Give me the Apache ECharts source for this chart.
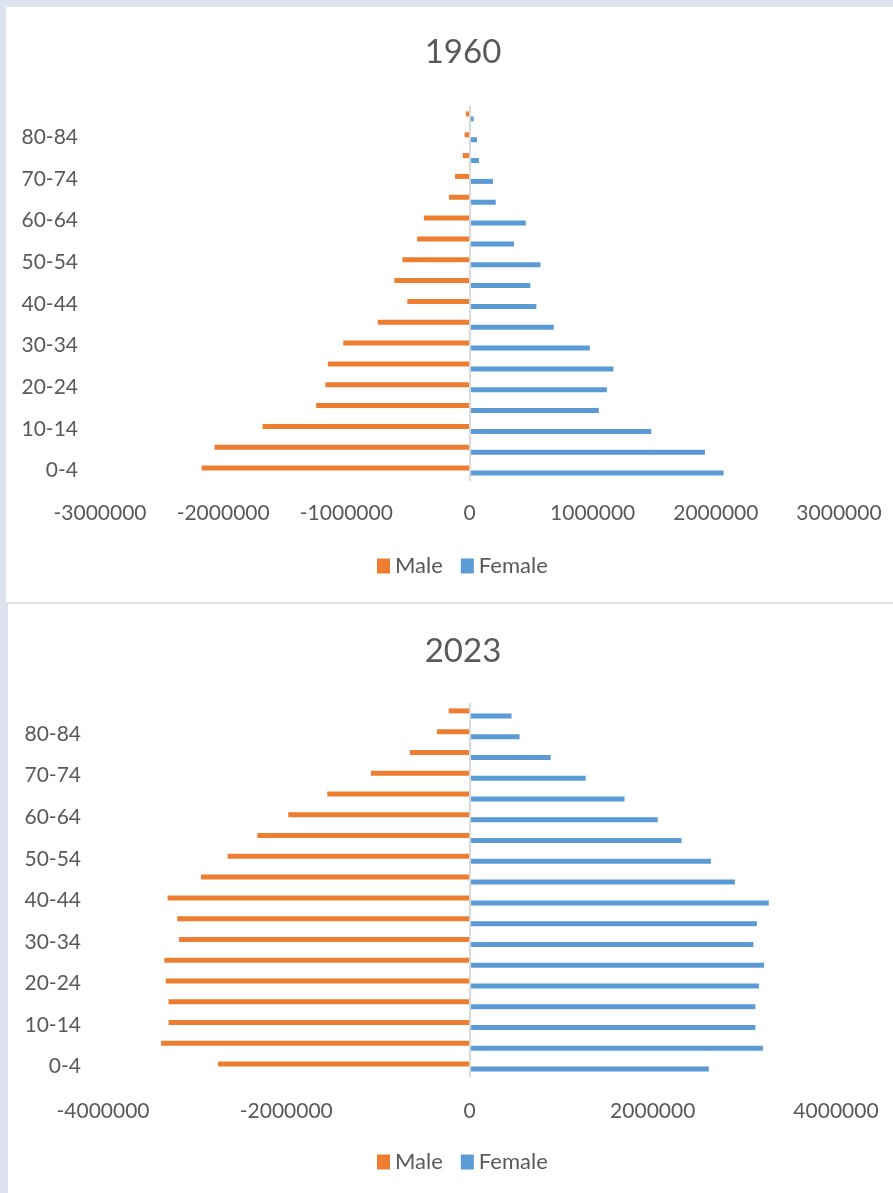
<!DOCTYPE html>
<html>
<head>
<meta charset="utf-8">
<script src="https://cdn.jsdelivr.net/npm/echarts@6/dist/echarts.min.js"></script>
<style>
  html, body { margin: 0; padding: 0; background: #dde2ef; width: 893px; height: 1193px; overflow: hidden; }
  .panel { position: absolute; background: #ffffff; }
  #p1 { left: 6px; top: 7px; width: 887px; height: 595px; }
  #p2 { left: 8px; top: 604px; width: 885px; height: 589px; }
  .chart { width: 100%; height: 100%; }
</style>
</head>
<body>
<div class="panel" id="p1"><div class="chart" id="c1"></div></div>
<div class="panel" id="p2"><div class="chart" id="c2"></div></div>
<script>
// Five-year age groups, youngest first (bottom of the pyramid)
const ageGroups = ['0-4','5-9','10-14','15-19','20-24','25-29','30-34','35-39','40-44',
                   '45-49','50-54','55-59','60-64','65-69','70-74','75-79','80-84','85+'];

// 1960 population by age group
const male1960   = [2175000, 2070000, 1680000, 1245000, 1170000, 1150000, 1025000, 745000, 505000,
                    610000, 545000, 425000, 370000, 167000, 118000, 55000, 40000, 30000];
const female1960 = [2063000, 1912000, 1476000, 1050000, 1115000, 1169000, 977000, 684000, 543000,
                    494000, 576000, 362000, 457000, 213000, 191000, 77000, 61000, 34000];

// 2023 population by age group
const male2023   = [2745000, 3365000, 3285000, 3285000, 3315000, 3330000, 3170000, 3190000, 3295000,
                    2930000, 2640000, 2315000, 1978000, 1552000, 1076000, 650000, 355000, 227000];
const female2023 = [2612000, 3202000, 3120000, 3120000, 3159000, 3215000, 3098000, 3137000, 3266000,
                    2897000, 2635000, 2315000, 2055000, 1692000, 1268000, 886000, 547000, 459000];

const seriesNames = ['Male', 'Female'];
const maleColor = '#ED7D31';
const femaleColor = '#5B9BD5';
const textColor = '#595959';
const fontFamily = 'Lato, "Open Sans", sans-serif';

function pyramidOption(cfg) {
  return {
    animation: false,
    textStyle: { fontFamily: fontFamily, color: textColor },
    title: {
      text: cfg.title,
      left: cfg.titleX,
      top: cfg.titleTop,
      textAlign: 'center',
      textStyle: { fontFamily: fontFamily, fontSize: 33, fontWeight: 'normal', color: textColor }
    },
    legend: {
      data: seriesNames,
      left: cfg.legendLeft,
      top: cfg.legendTop,
      itemWidth: 13,
      itemHeight: 15,
      itemGap: 18,
      icon: 'rect',
      textStyle: { fontFamily: fontFamily, fontSize: 22, color: textColor }
    },
    grid: { left: cfg.grid.left, right: cfg.grid.right, top: cfg.grid.top, height: cfg.grid.height, containLabel: false },
    xAxis: {
      type: 'value',
      min: -cfg.max, max: cfg.max, interval: cfg.interval,
      splitLine: { show: false },
      axisLine: { show: false },
      axisTick: { show: false },
      axisLabel: {
        fontFamily: fontFamily, fontSize: 21, color: textColor, margin: cfg.xMargin,
        formatter: v => String(v)
      }
    },
    yAxis: {
      type: 'category',
      data: ageGroups,
      axisLine: { show: false },
      axisTick: { show: false },
      axisLabel: { interval: 1, fontFamily: fontFamily, fontSize: 21, color: textColor, margin: 22 }
    },
    series: [
      {
        name: 'Male', type: 'bar', barWidth: 5, barGap: '0%',
        itemStyle: { color: maleColor },
        data: cfg.male.map(v => -v),
        markLine: {
          silent: true, symbol: 'none', label: { show: false },
          lineStyle: { color: '#d9d9d9', type: 'solid', width: 2 },
          data: [{ xAxis: 0 }]
        }
      },
      {
        name: 'Female', type: 'bar', barWidth: 5, barGap: '0%',
        itemStyle: { color: femaleColor },
        data: cfg.female
      }
    ]
  };
}

const chart1 = echarts.init(document.getElementById('c1'), null, { renderer: 'canvas' });
chart1.setOption(pyramidOption({
  title: '1960', titleX: 452, titleTop: 24,
  legendLeft: 366, legendTop: 543,
  grid: { left: 94, right: 54, top: 99, height: 375 },
  max: 3000000, interval: 1000000, xMargin: 22,
  male: male1960, female: female1960
}));

const chart2 = echarts.init(document.getElementById('c2'), null, { renderer: 'canvas' });
chart2.setOption(pyramidOption({
  title: '2023', titleX: 450, titleTop: 26,
  legendLeft: 364, legendTop: 542,
  grid: { left: 95, right: 57, top: 99, height: 374 },
  max: 4000000, interval: 2000000, xMargin: 24,
  male: male2023, female: female2023
}));
</script>
</body>
</html>
